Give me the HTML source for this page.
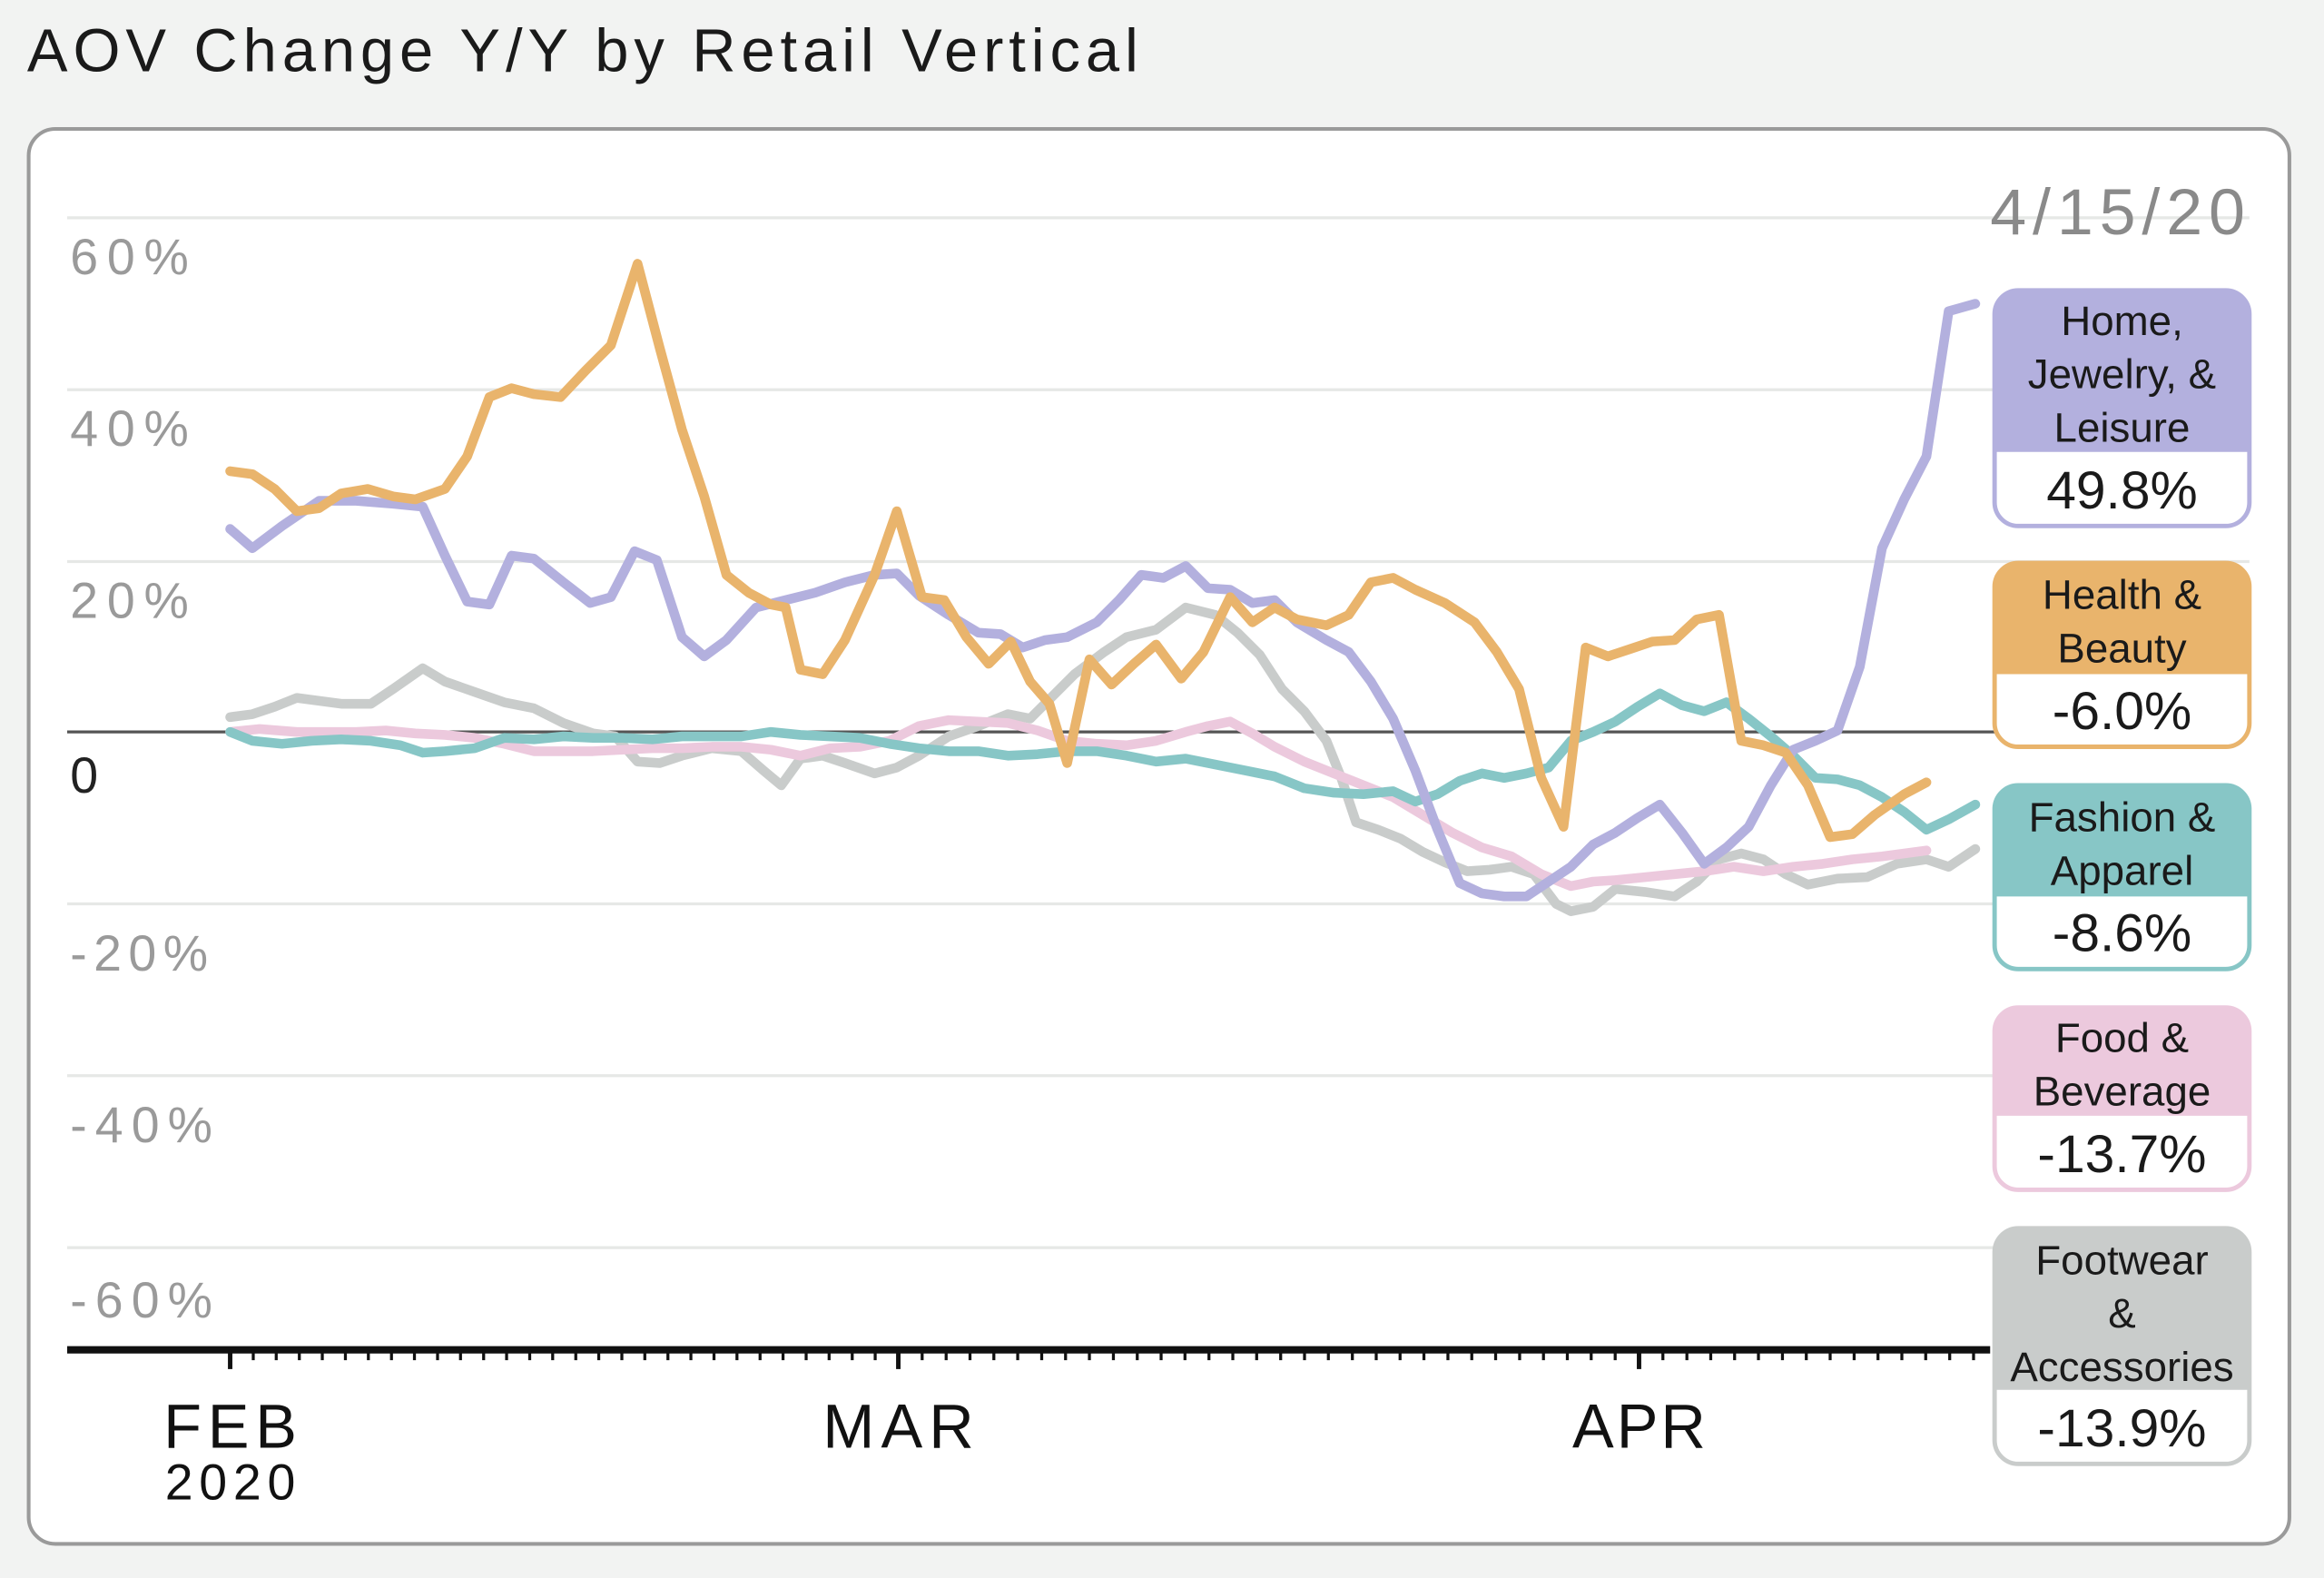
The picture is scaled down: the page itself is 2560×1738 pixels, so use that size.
<!DOCTYPE html>
<html><head><meta charset="utf-8"><style>
html,body{margin:0;padding:0;background:#f2f3f2;}
svg{display:block;font-family:"Liberation Sans",sans-serif;}
</style></head><body>
<svg id="s" width="2560" height="1738" viewBox="0 0 1568 1065" xmlns="http://www.w3.org/2000/svg">
<rect width="1568" height="1065" fill="#f2f3f2"/>
<text x="18" y="48" font-size="41" fill="#1a1a1a" textLength="750" lengthAdjust="spacing">AOV Change Y/Y by Retail Vertical</text>
<rect x="19" y="87" width="1526" height="955" rx="18" fill="#fff" stroke="#9a9a9a" stroke-width="2.5"/>
<g stroke="#e6e8e6" stroke-width="2">
<line x1="45" y1="147" x2="1518" y2="147"/><line x1="45" y1="263" x2="1518" y2="263"/>
<line x1="45" y1="379" x2="1518" y2="379"/><line x1="45" y1="610" x2="1518" y2="610"/>
<line x1="45" y1="726" x2="1518" y2="726"/><line x1="45" y1="842" x2="1518" y2="842"/>
</g>
<line x1="45" y1="494" x2="1518" y2="494" stroke="#555" stroke-width="2"/>
<g font-size="34" fill="#9a9a9a" lengthAdjust="spacing">
<text x="47" y="185" textLength="80">60%</text><text x="47" y="301" textLength="80">40%</text><text x="47" y="417" textLength="80">20%</text>
<text x="47" y="655" textLength="93">-20%</text><text x="47" y="771" textLength="96">-40%</text><text x="47" y="889" textLength="96">-60%</text>
</g>
<text x="47" y="535" font-size="34" fill="#222">0</text>
<line x1="45" y1="911" x2="1343" y2="911" stroke="#111" stroke-width="5"/>
<g id="ticks" stroke="#111" stroke-width="2"></g>
<g font-size="42" fill="#111" text-anchor="middle">
<text x="155" y="977" textLength="90">FEB</text><text x="606" y="977" textLength="102">MAR</text><text x="1106" y="977" textLength="90">APR</text>
<text x="155" y="1012" font-size="34" textLength="88">2020</text>
</g>
<g fill="none" stroke-width="6.5" stroke-linejoin="round" stroke-linecap="round">
<polyline stroke="#c9cccb" points="155,484 170,482 185,477 200,471 215,473 230,475 250,475 265,465 285,451 300,460 320,467 340,474 360,478 380,488 400,495 415,497 430,514 445,515 460,510 480,505 500,507 515,520 527,530 540,512 555,510 570,515 590,522 605,518 620,510 640,497 660,490 680,482 695,485 710,470 725,455 745,440 760,430 780,425 800,410 820,415 835,427 850,442 865,465 880,480 895,500 905,525 915,555 930,560 945,566 960,575 975,582 990,588 1005,587 1020,585 1035,590 1050,610 1060,615 1075,612 1090,600 1110,602 1130,605 1145,595 1160,580 1175,576 1190,580 1205,590 1220,597 1240,593 1260,592 1280,583 1300,580 1315,585 1333,573"/>
<polyline stroke="#ecc9dd" points="155,494 175,492 200,494 220,494 240,494 260,493 280,495 300,496 320,498 340,502 360,507 380,507 400,507 420,506 440,505 460,505 480,504 500,504 520,506 540,510 560,505 580,504 600,500 620,490 640,486 660,487 680,488 700,493 720,500 740,502 760,503 780,500 800,494 815,490 830,487 845,495 860,504 880,514 900,522 920,530 940,538 960,550 980,562 1000,572 1020,578 1040,590 1060,598 1075,595 1090,594 1110,592 1130,590 1150,588 1170,585 1190,588 1210,585 1230,583 1250,580 1270,578 1300,574"/>
<polyline stroke="#87c6c6" points="155,494 170,500 190,502 210,500 230,499 250,500 270,503 285,508 300,507 320,505 340,498 360,499 380,497 400,498 420,498 440,499 460,497 480,497 500,497 520,494 540,496 560,497 580,498 600,502 620,505 640,507 660,507 680,510 700,509 720,507 740,507 760,510 780,514 800,512 820,516 840,520 860,524 880,532 900,535 920,536 940,534 955,541 970,536 985,527 1000,522 1015,525 1030,522 1045,518 1060,500 1075,494 1090,487 1105,477 1120,468 1135,476 1150,480 1165,474 1180,485 1195,497 1210,510 1225,525 1240,526 1255,530 1270,538 1285,548 1300,560 1315,553 1333,543"/>
<polyline stroke="#b3b0de" points="155,357 170,370 190,355 215,338 240,338 265,340 285,342 300,375 315,406 330,408 345,375 360,377 380,393 398,407 412,403 428,372 443,378 460,430 475,443 490,432 510,410 530,405 550,400 570,393 590,388 605,387 620,402 640,415 660,427 675,428 690,437 705,432 720,430 740,420 755,405 770,388 785,390 800,382 815,397 830,398 845,407 860,405 875,420 895,432 910,440 925,460 940,485 955,520 970,560 985,596 1000,603 1015,605 1030,605 1045,595 1060,585 1075,570 1090,562 1105,552 1120,543 1135,562 1150,583 1165,572 1180,558 1195,530 1210,506 1225,500 1240,493 1255,450 1270,370 1285,337 1300,308 1315,210 1333,205"/>
<polyline stroke="#e9b46c" points="155,318 170,320 185,330 200,345 215,343 230,333 248,330 265,335 280,337 300,330 315,308 330,268 345,262 360,266 378,268 395,250 412,233 430,178 445,235 460,290 475,335 490,388 505,400 520,408 530,410 540,452 555,455 570,432 590,388 605,345 622,403 637,405 652,430 667,448 682,433 695,460 708,475 720,515 735,445 750,462 765,448 780,435 797,458 812,440 830,403 845,420 860,410 875,418 895,422 910,415 925,393 940,390 955,398 975,407 995,420 1010,440 1025,465 1040,525 1055,558 1070,437 1085,443 1100,438 1115,433 1130,432 1145,418 1160,415 1175,500 1190,503 1205,508 1220,530 1235,565 1250,563 1265,550 1285,536 1300,528"/>
</g>
<text x="1515" y="158" font-size="44" fill="#8a8a8a" text-anchor="end" textLength="172">4/15/20</text>
<g font-size="28" fill="#1a1a1a" text-anchor="middle">
<rect x="1346" y="196" width="172" height="159" rx="16" fill="#fff" stroke="#b3b0de" stroke-width="3"/>
<path d="M1346,212 a16,16 0 0 1 16,-16 h140 a16,16 0 0 1 16,16 v93 h-172z" fill="#b3b0de"/>
<text x="1432" y="226">Home,</text><text x="1432" y="262">Jewelry, &amp;</text><text x="1432" y="298">Leisure</text>
<text x="1432" y="343" font-size="36">49.8%</text>
<rect x="1346" y="380" width="172" height="124" rx="16" fill="#fff" stroke="#e9b46c" stroke-width="3"/>
<path d="M1346,396 a16,16 0 0 1 16,-16 h140 a16,16 0 0 1 16,16 v59 h-172z" fill="#e9b46c"/>
<text x="1432" y="411">Health &amp;</text><text x="1432" y="447">Beauty</text>
<text x="1432" y="492" font-size="36">-6.0%</text>
<rect x="1346" y="530" width="172" height="124" rx="16" fill="#fff" stroke="#87c6c6" stroke-width="3"/>
<path d="M1346,546 a16,16 0 0 1 16,-16 h140 a16,16 0 0 1 16,16 v59 h-172z" fill="#87c6c6"/>
<text x="1432" y="561">Fashion &amp;</text><text x="1432" y="597">Apparel</text>
<text x="1432" y="642" font-size="36">-8.6%</text>
<rect x="1346" y="680" width="172" height="123" rx="16" fill="#fff" stroke="#ecc9dd" stroke-width="3"/>
<path d="M1346,696 a16,16 0 0 1 16,-16 h140 a16,16 0 0 1 16,16 v57 h-172z" fill="#ecc9dd"/>
<text x="1432" y="710">Food &amp;</text><text x="1432" y="746">Beverage</text>
<text x="1432" y="791" font-size="36">-13.7%</text>
<rect x="1346" y="829" width="172" height="159" rx="16" fill="#fff" stroke="#c9cccb" stroke-width="3"/>
<path d="M1346,845 a16,16 0 0 1 16,-16 h140 a16,16 0 0 1 16,16 v93 h-172z" fill="#c9cccb"/>
<text x="1432" y="860">Footwear</text><text x="1432" y="896">&amp;</text><text x="1432" y="932">Accessories</text>
<text x="1432" y="976" font-size="36">-13.9%</text>
</g>
</svg>
<script>
var g=document.getElementById('ticks'),h='';
for(var d=0;d<=74;d++){var x;if(d<=29)x=155+d*451/29;else x=606+(d-29)*500/31;
var big=(d==0||d==29||d==60);h+='<line x1="'+x.toFixed(1)+'" y1="911" x2="'+x.toFixed(1)+'" y2="'+(big?924:918)+'" stroke-width="'+(big?3:2)+'"/>';}
g.innerHTML=h;
</script>
</body></html>
